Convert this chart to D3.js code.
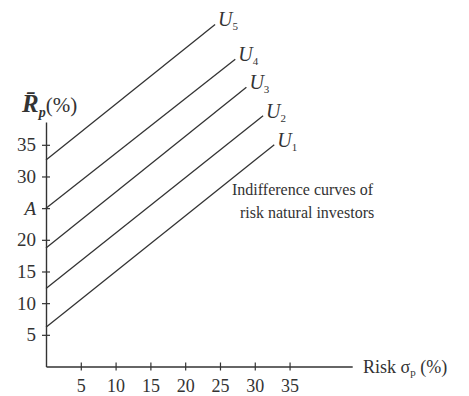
<!DOCTYPE html>
<html>
<head>
<meta charset="utf-8">
<script src="https://cdn.jsdelivr.net/npm/d3@7"></script>
<style>
  html, body { margin: 0; padding: 0; background: #fff; }
  svg { display: block; }
  text { font-family: "Liberation Serif", "DejaVu Serif", serif; fill: #333; }
</style>
</head>
<body>
<svg id="chart" width="469" height="396"></svg>
<script>
// ---- data ----
const curveNames = ["1", "2", "3", "4", "5"];          // subscripts of U
const curveStartY = [6.2, 12.3, 18.7, 25, 32.6];        // expected return at sigma = 0
const curveEndX = [32.8, 31.2, 28.8, 27.2, 24.3];       // risk at end of line
const curveEndY = [35.0, 39.6, 44.1, 48.5, 54.0];       // return at end of line
const yTickValues = [5, 10, 15, 20, 25, 30, 35];
const yTickLabels = ["5", "10", "15", "20", "A", "30", "35"];
const xTickValues = [5, 10, 15, 20, 25, 30, 35];
const noteLines = ["Indifference curves of", "risk natural investors"];

// ---- layout ----
const svg = d3.select("#chart");
const x = d3.scaleLinear().domain([0, 44]).range([46, 352.2]);
const y = d3.scaleLinear().domain([0, 38.6]).range([366.5, 122]);
const ink = "#333";

// y axis
const yAxis = d3.axisLeft(y).tickValues(yTickValues)
  .tickFormat((d, i) => yTickLabels[i]).tickSize(4).tickSizeOuter(0).tickPadding(6);
const gy = svg.append("g").attr("transform", `translate(${x(0)},0)`).call(yAxis);
gy.select(".domain").attr("stroke", ink).attr("stroke-width", 1.4);
gy.selectAll(".tick line").attr("stroke", ink).attr("stroke-width", 1.2).attr("x1", 4);
gy.selectAll(".tick text").attr("font-size", 19).attr("fill", ink)
  .attr("font-family", "Liberation Serif")
  .attr("font-style", (d, i) => yTickLabels[i] === "A" ? "italic" : "normal");

// x axis
const xAxis = d3.axisBottom(x).tickValues(xTickValues).tickSize(4).tickSizeOuter(0).tickPadding(9);
const gx = svg.append("g").attr("transform", `translate(0,${y(0)})`).call(xAxis);
gx.select(".domain").attr("stroke", ink).attr("stroke-width", 1.4);
gx.selectAll(".tick line").attr("stroke", ink).attr("stroke-width", 1.2).attr("y1", -4);
gx.selectAll(".tick text").attr("font-size", 18).attr("fill", ink)
  .attr("font-family", "Liberation Serif");

// indifference lines
const curves = curveNames.map((n, i) => ({
  name: n,
  pts: [[0, curveStartY[i]], [curveEndX[i], curveEndY[i]]]
}));
const line = d3.line().x(d => x(d[0])).y(d => y(d[1]));
svg.append("g").selectAll("path").data(curves).join("path")
  .attr("d", d => line(d.pts)).attr("fill", "none")
  .attr("stroke", ink).attr("stroke-width", 1.3);

// curve labels
const lab = svg.append("g").selectAll("text").data(curves).join("text")
  .attr("x", d => x(d.pts[1][0]) + 3)
  .attr("y", d => y(d.pts[1][1]) + 2);
lab.append("tspan").attr("font-style", "italic").attr("font-size", 20).text("U");
lab.append("tspan").attr("font-size", 11).attr("dy", 4).text(d => d.name);

// y-axis title
const yt = svg.append("text").attr("x", 22).attr("y", 112);
yt.append("tspan").attr("font-style", "italic").attr("font-weight", "bold").attr("font-size", 25).text("R\u0304");
yt.append("tspan").attr("font-style", "italic").attr("font-weight", "bold").attr("font-size", 14).attr("dy", 5).text("p");
yt.append("tspan").attr("font-size", 21).attr("dy", -5).text("(%)");

// x-axis title
const xt = svg.append("text").attr("x", 363).attr("y", y(0) + 6).attr("font-size", 18);
xt.append("tspan").text("Risk \u03c3");
xt.append("tspan").attr("font-size", 11).attr("dy", 3).text("p");
xt.append("tspan").attr("dy", -3).text(" (%)");

// note
svg.append("g").selectAll("text").data(noteLines).join("text")
  .attr("x", (d, i) => i === 0 ? 232 : 240)
  .attr("y", (d, i) => 195 + i * 23)
  .attr("font-size", 16)
  .text(d => d);
</script>
</body>
</html>
